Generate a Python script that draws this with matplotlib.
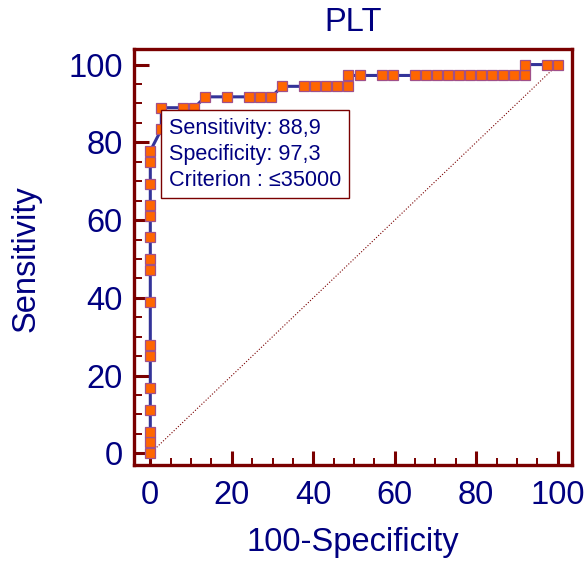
import matplotlib
matplotlib.use("Agg")
import matplotlib.pyplot as plt
from matplotlib.ticker import MultipleLocator

plt.rcParams["font.family"] = ["Liberation Sans", "DejaVu Sans"]

# ROC points: 100-Specificity (x) vs Sensitivity (y), in percent
fpr = [0, 0, 0, 0, 0, 0, 0, 0, 0, 0, 0, 0, 0, 0, 0, 0,
       2.7, 2.7, 8.1, 10.8,
       13.5, 18.9, 24.3, 27.0, 29.7,
       32.4, 37.8, 40.5, 43.2, 45.9, 48.6,
       48.6, 51.4, 56.8, 59.5, 64.9, 67.6, 70.3, 73.0, 75.7, 78.4,
       81.1, 83.8, 86.5, 89.2, 91.9,
       91.9, 97.3, 100]
tpr = [0, 2.8, 5.6, 11.1, 16.7, 25.0, 27.8, 38.9, 47.2, 50.0, 55.6,
       61.1, 63.9, 69.4, 75.0, 77.8,
       83.3, 88.9, 88.9, 88.9,
       91.7, 91.7, 91.7, 91.7, 91.7,
       94.4, 94.4, 94.4, 94.4, 94.4, 94.4,
       97.2, 97.2, 97.2, 97.2, 97.2, 97.2, 97.2, 97.2, 97.2, 97.2,
       97.2, 97.2, 97.2, 97.2, 97.2,
       100, 100, 100]

# optimal cut-off
best_sens = 88.9
best_spec = 97.3
criterion = "\u226435000"

NAVY = "#000080"
FRAME = "#7a0000"
BIG = 23.5

fig = plt.figure(figsize=(5.87, 5.66), dpi=100)
ax = fig.add_axes([0.2283, 0.1784, 0.7461, 0.735])

ax.plot([0, 100], [0, 100], ls=":", color=FRAME, lw=0.8, zorder=1)
ax.plot(fpr, tpr, color="#333399", lw=2.2, zorder=2)
ax.plot(fpr, tpr, ls="none", marker="s", ms=7.6, mfc="#ff6600",
        mec="#a0508a", mew=0.9, zorder=3)

ax.annotate(f"Sensitivity: {best_sens:.1f}".replace(".", ",") + "\n"
            + f"Specificity: {best_spec:.1f}".replace(".", ",") + "\n"
            + f"Criterion : {criterion}",
            xy=(100 - best_spec, best_sens), xytext=(5.6, -7.4),
            textcoords="offset points", ha="left", va="top",
            fontsize=15.6, color=NAVY, linespacing=1.3, zorder=4,
            bbox=dict(boxstyle="square,pad=0.36", fc="white", ec=FRAME, lw=1))

ax.set_xlim(-4, 103.5)
ax.set_ylim(-3, 104)
ax.xaxis.set_major_locator(MultipleLocator(20))
ax.xaxis.set_minor_locator(MultipleLocator(5))
ax.yaxis.set_major_locator(MultipleLocator(20))
ax.yaxis.set_minor_locator(MultipleLocator(5))

for side in ax.spines.values():
    side.set_color(FRAME)
    side.set_linewidth(2.4)

ax.tick_params(which="both", direction="in", color=FRAME,
               labelcolor=NAVY, labelsize=BIG, top=False, right=False)
ax.tick_params(which="major", width=2.2)
ax.tick_params(which="minor", width=1.4)
ax.tick_params(axis="x", which="major", length=9.8, pad=11)
ax.tick_params(axis="x", which="minor", length=4.8)
ax.tick_params(axis="y", which="major", length=10.5, pad=8)
ax.tick_params(axis="y", which="minor", length=6)

ax.set_title("PLT", color=NAVY, fontsize=BIG, pad=13)
ax.set_xlabel("100-Specificity", color=NAVY, fontsize=BIG)
ax.set_ylabel("Sensitivity", color=NAVY, fontsize=BIG)
ax.xaxis.set_label_coords(0.5, -0.148)
ax.yaxis.set_label_coords(-0.212, 0.496)

fig.savefig("out.png", dpi=100)
